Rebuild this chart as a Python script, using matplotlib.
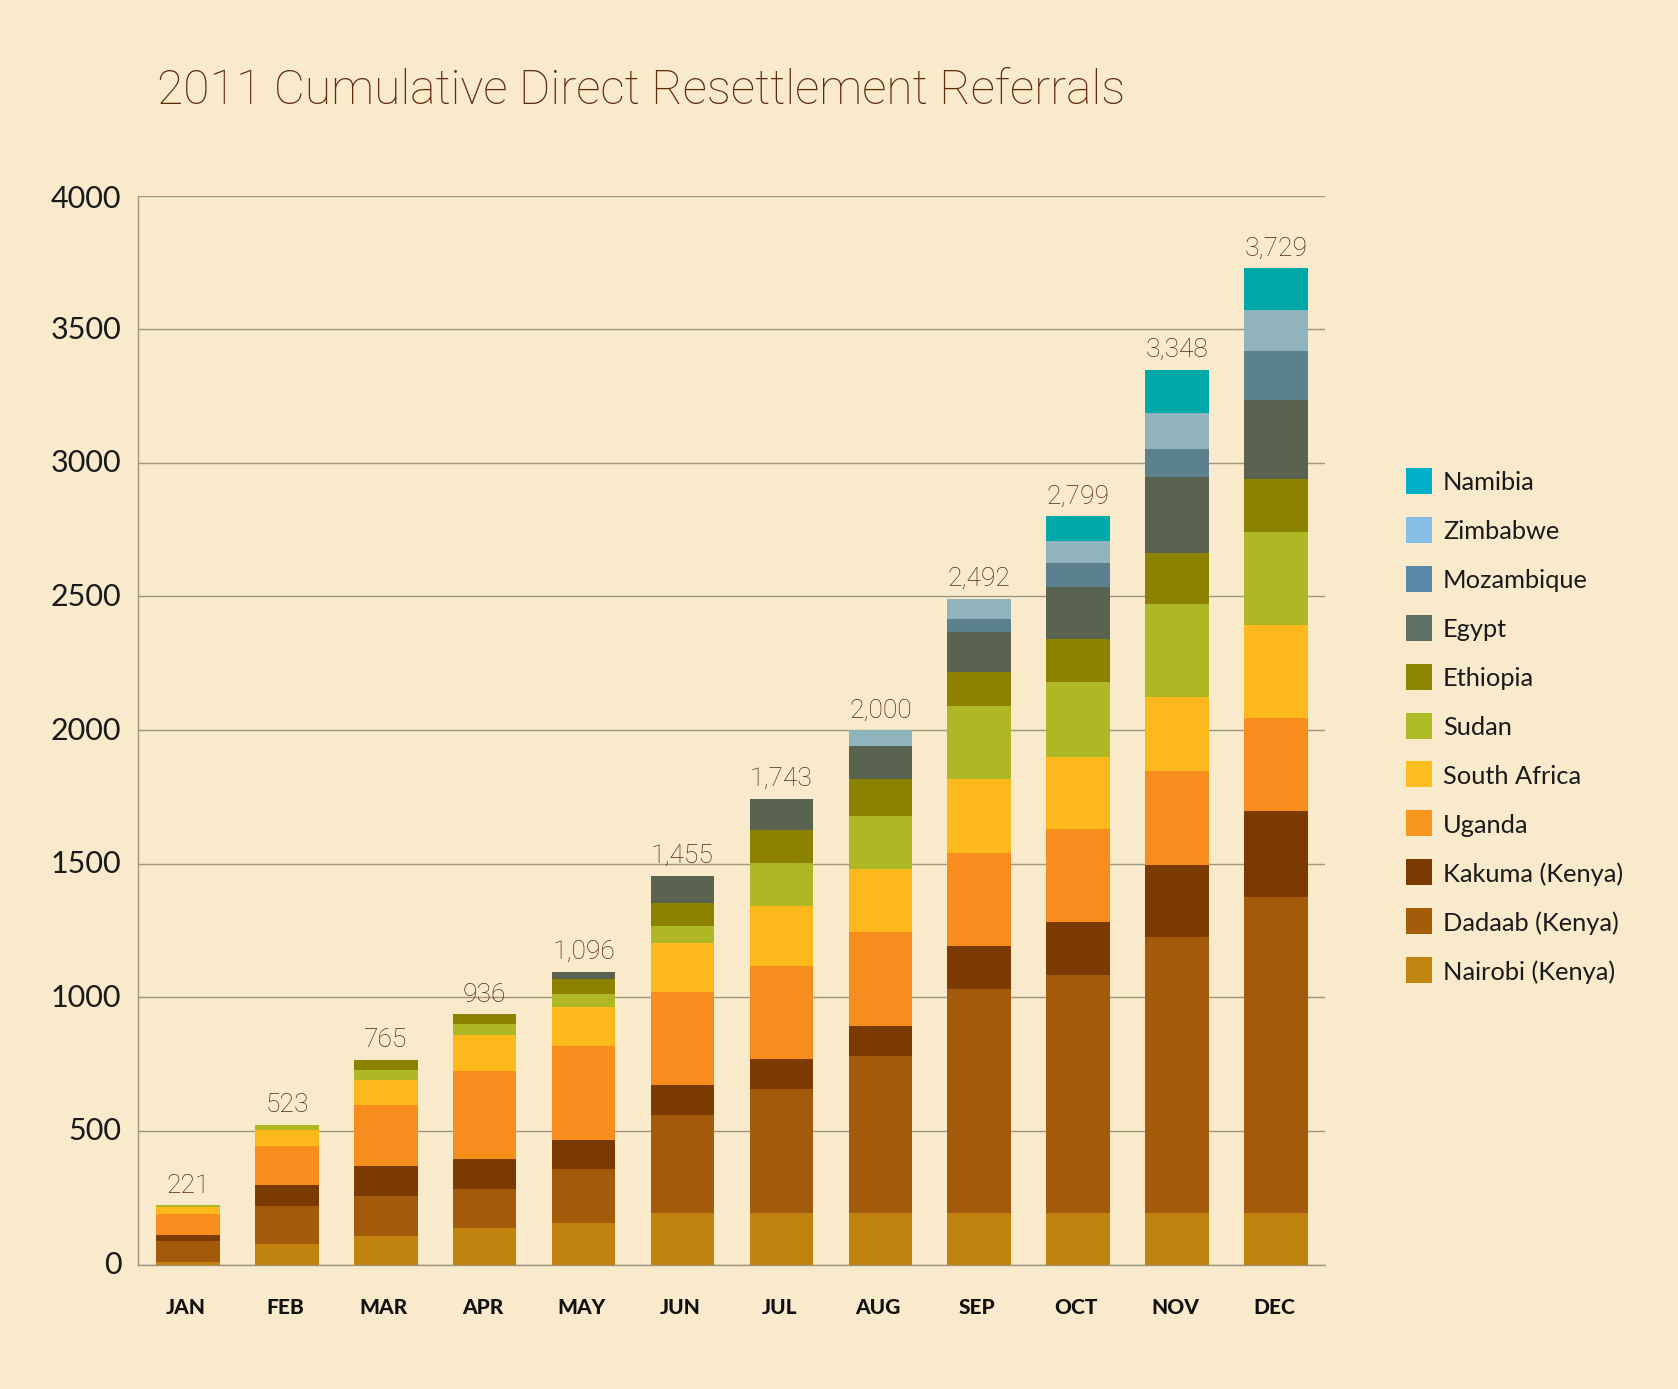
import numpy as np
import matplotlib.pyplot as plt
from matplotlib.patches import Rectangle
from matplotlib.transforms import ScaledTranslation

W, H = 1678, 1389
BG = "#F8EACB"

months = ["JAN", "FEB", "MAR", "APR", "MAY", "JUN", "JUL", "AUG", "SEP", "OCT", "NOV", "DEC"]
totals = [221, 523, 765, 936, 1096, 1455, 1743, 2000, 2492, 2799, 3348, 3729]

# valeurs, de bas en haut de la pile
nairobi = [10, 76, 108, 136, 156, 192, 192, 192, 192, 192, 192, 192]
dadaab = [78, 144, 148, 148, 200, 368, 464, 588, 840, 892, 1032, 1184]
kakuma = [22, 76, 112, 112, 108, 112, 112, 112, 160, 196, 272, 320]
uganda = [78, 148, 228, 328, 352, 348, 348, 352, 348, 348, 352, 348]
south_africa = [28, 60, 96, 136, 148, 184, 224, 236, 276, 272, 276, 348]
sudan = [5, 19, 36, 40, 48, 64, 164, 200, 272, 280, 348, 348]
ethiopia = [0, 0, 37, 36, 56, 84, 120, 136, 128, 160, 192, 200]
egypt = [0, 0, 0, 0, 28, 103, 119, 124, 152, 196, 284, 296]
mozambique = [0, 0, 0, 0, 0, 0, 0, 0, 48, 88, 104, 184]
zimbabwe = [0, 0, 0, 0, 0, 0, 0, 60, 76, 84, 136, 152]
namibia = [0, 0, 0, 0, 0, 0, 0, 0, 0, 91, 160, 157]

series = [nairobi, dadaab, kakuma, uganda, south_africa, sudan,
          ethiopia, egypt, mozambique, zimbabwe, namibia]
names = ["Nairobi (Kenya)", "Dadaab (Kenya)", "Kakuma (Kenya)", "Uganda", "South Africa", "Sudan",
         "Ethiopia", "Egypt", "Mozambique", "Zimbabwe", "Namibia"]
bar_colors = ["#C0830F", "#A35A0A", "#7B3A02", "#F68D1C", "#FDB91C", "#AEB824",
              "#8C8200", "#5A6350", "#5B808E", "#8FB4BE", "#00A9A7"]
legend_colors = ["#C0860F", "#A35D0A", "#7B3A02", "#F8951D", "#FDBD1F", "#AEBB24",
                 "#8C8600", "#5E6F66", "#5A87A8", "#85BDE6", "#00B0C8"]

plt.rcParams["font.family"] = ["Lato", "DejaVu Sans"]
THIN = ["Roboto", "DejaVu Sans"]

fig = plt.figure(figsize=(W / 100, H / 100), dpi=100, facecolor=BG)
ax = fig.add_axes([138 / W, 1 - 1264.5 / H, (1325 - 138) / W, (1264.5 - 195.5) / H])
ax.set_facecolor("none")

x = np.arange(len(months))
bottom = np.zeros(len(months))
for vals, col in zip(series, bar_colors):
    ax.bar(x, vals, width=0.642, bottom=bottom, color=col, linewidth=0, zorder=3)
    bottom += np.array(vals)

for xi, total in zip(x, totals):
    ax.annotate(f"{total:,}", (xi, total), xytext=(0, 5.5), textcoords="offset points",
                ha="center", va="bottom", fontsize=19, fontweight="light",
                family=THIN, color="#54290A")

ax.set_xlim(-0.506, 11.496)
ax.set_ylim(0, 4000)
ax.set_yticks(range(0, 4001, 500))
ax.set_xticks(x)
ax.set_xticklabels(months, fontsize=15, fontweight="black", color="#111111")
ax.tick_params(axis="x", length=0, pad=24)
ax.tick_params(axis="y", length=0, pad=12, labelsize=22, labelcolor="#1A1A1A")
ax.grid(axis="y", color="#9E9780", linewidth=1.0, zorder=1)
ax.set_axisbelow(True)

# les mois sont un peu à gauche du centre des barres
shift = ScaledTranslation(-2 / 100, 0, fig.dpi_scale_trans)
for lab in ax.get_xticklabels():
    lab.set_transform(lab.get_transform() + shift)
# chiffres au-dessus de leur ligne, sauf 4000
for lab, dy in zip(ax.get_yticklabels(), [2] * 8 + [-1]):
    lab.set_transform(lab.get_transform() + ScaledTranslation(0, dy / 100, fig.dpi_scale_trans))

for side in ["top", "right"]:
    ax.spines[side].set_visible(False)
for side in ["left", "bottom"]:
    ax.spines[side].set_color("#9E9780")
    ax.spines[side].set_linewidth(1.0)

fig.text(157 / W, 1 - 91 / H, "2011 Cumulative Direct Resettlement Referrals",
         fontsize=34.6, fontweight="light", family=THIN, color="#5F2C08", ha="left", va="center")

# légende à la main, Namibia en haut
for i, (name, col) in enumerate(zip(names[::-1], legend_colors[::-1])):
    y_top = 468 + 48.9 * i
    fig.add_artist(Rectangle((1406 / W, 1 - (y_top + 26) / H), 26 / W, 26 / H,
                             transform=fig.transFigure, facecolor=col, linewidth=0))
    fig.text(1443 / W, 1 - (y_top + 15) / H, name, fontsize=18.3, color="#1A1A1A",
             ha="left", va="center")

fig.savefig("out.png", dpi=100, facecolor=BG)
